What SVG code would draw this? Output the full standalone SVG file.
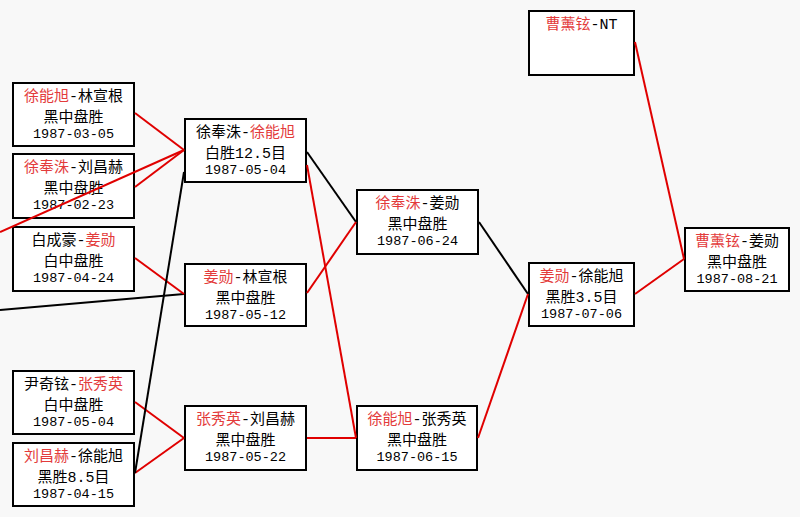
<svg xmlns="http://www.w3.org/2000/svg" width="800" height="517" viewBox="0 0 800 517">
<style>
.bg{fill:#f8f8f8}
.box{fill:#ffffff;stroke:#000;stroke-width:2}
.t{font-family:"Liberation Mono","Noto Sans CJK SC",monospace;font-size:15px;fill:#000;text-anchor:middle}
.d{font-size:13.5px}
.r{fill:#e33b3b}
.cr{stroke:#e00000;stroke-width:2;fill:none}
.ck{stroke:#000;stroke-width:2;fill:none}
</style>
<rect class="bg" x="0" y="0" width="800" height="517"/>
<g id="n1"><rect class="box" x="13" y="83" width="121" height="63"/>
<text class="t" x="73.5" y="101"><tspan class="r">徐能旭</tspan>-林宣根</text>
<text class="t" x="73.5" y="122">黑中盘胜</text>
<text class="t d" x="73.5" y="138">1987-03-05</text></g>
<g id="n2"><rect class="box" x="13" y="154" width="121" height="64"/>
<text class="t" x="73.5" y="172"><tspan class="r">徐奉洙</tspan>-刘昌赫</text>
<text class="t" x="73.5" y="193">黑中盘胜</text>
<text class="t d" x="73.5" y="209">1987-02-23</text></g>
<g id="n3"><rect class="box" x="13" y="227" width="121" height="64"/>
<text class="t" x="73.5" y="245">白成豪-<tspan class="r">姜勋</tspan></text>
<text class="t" x="73.5" y="266">白中盘胜</text>
<text class="t d" x="73.5" y="282">1987-04-24</text></g>
<g id="n4"><rect class="box" x="13" y="371" width="121" height="63"/>
<text class="t" x="73.5" y="389">尹奇铉-<tspan class="r">张秀英</tspan></text>
<text class="t" x="73.5" y="410">白中盘胜</text>
<text class="t d" x="73.5" y="426">1987-05-04</text></g>
<g id="n5"><rect class="box" x="13" y="443" width="121" height="63"/>
<text class="t" x="73.5" y="461"><tspan class="r">刘昌赫</tspan>-徐能旭</text>
<text class="t" x="73.5" y="482">黑胜8.5目</text>
<text class="t d" x="73.5" y="498">1987-04-15</text></g>
<g id="n6"><rect class="box" x="185" y="119" width="121" height="63"/>
<text class="t" x="245.5" y="137">徐奉洙-<tspan class="r">徐能旭</tspan></text>
<text class="t" x="245.5" y="158">白胜12.5目</text>
<text class="t d" x="245.5" y="174">1987-05-04</text></g>
<g id="n7"><rect class="box" x="185" y="264" width="121" height="62"/>
<text class="t" x="245.5" y="282"><tspan class="r">姜勋</tspan>-林宣根</text>
<text class="t" x="245.5" y="303">黑中盘胜</text>
<text class="t d" x="245.5" y="319">1987-05-12</text></g>
<g id="n8"><rect class="box" x="185" y="406" width="121" height="64"/>
<text class="t" x="245.5" y="424"><tspan class="r">张秀英</tspan>-刘昌赫</text>
<text class="t" x="245.5" y="445">黑中盘胜</text>
<text class="t d" x="245.5" y="461">1987-05-22</text></g>
<g id="n9"><rect class="box" x="357" y="190" width="121" height="64"/>
<text class="t" x="417.5" y="208"><tspan class="r">徐奉洙</tspan>-姜勋</text>
<text class="t" x="417.5" y="229">黑中盘胜</text>
<text class="t d" x="417.5" y="245">1987-06-24</text></g>
<g id="n10"><rect class="box" x="357" y="406" width="120" height="64"/>
<text class="t" x="417" y="424"><tspan class="r">徐能旭</tspan>-张秀英</text>
<text class="t" x="417" y="445">黑中盘胜</text>
<text class="t d" x="417" y="461">1987-06-15</text></g>
<g id="n11"><rect class="box" x="529" y="263" width="105" height="63"/>
<text class="t" x="581.5" y="281"><tspan class="r">姜勋</tspan>-徐能旭</text>
<text class="t" x="581.5" y="302">黑胜3.5目</text>
<text class="t d" x="581.5" y="318">1987-07-06</text></g>
<g id="n12"><rect class="box" x="529" y="11" width="105" height="64"/>
<text class="t" x="581.5" y="29"><tspan class="r">曹薰铉</tspan>-NT</text></g>
<g id="n13"><rect class="box" x="685" y="228" width="104" height="63"/>
<text class="t" x="737" y="246"><tspan class="r">曹薰铉</tspan>-姜勋</text>
<text class="t" x="737" y="267">黑中盘胜</text>
<text class="t d" x="737" y="283">1987-08-21</text></g>
<g id="connectors">
<line class="cr" x1="135" y1="113" x2="184" y2="150"/>
<line class="cr" x1="135" y1="187" x2="184" y2="150"/>
<line class="cr" x1="0" y1="232" x2="184" y2="150"/>
<line class="ck" x1="0" y1="310" x2="184" y2="294"/>
<line class="cr" x1="135" y1="258" x2="184" y2="294"/>
<line class="cr" x1="135" y1="402" x2="184" y2="438"/>
<line class="cr" x1="135" y1="473" x2="184" y2="438"/>
<line class="ck" x1="184" y1="172" x2="135" y2="473"/>
<line class="ck" x1="307" y1="152" x2="356" y2="222"/>
<line class="cr" x1="307" y1="165" x2="356" y2="438"/>
<line class="cr" x1="307" y1="293" x2="356" y2="222"/>
<line class="cr" x1="307" y1="438" x2="356" y2="438"/>
<line class="ck" x1="479" y1="222" x2="528" y2="294"/>
<line class="cr" x1="478" y1="438" x2="528" y2="294"/>
<line class="cr" x1="635" y1="294" x2="684" y2="259"/>
<line class="cr" x1="635" y1="42" x2="684" y2="259"/>
</g>
</svg>
